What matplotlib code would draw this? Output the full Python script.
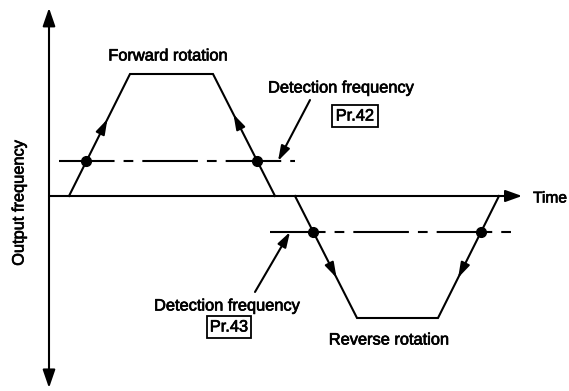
import numpy as np
import matplotlib
matplotlib.use("Agg")
import matplotlib.pyplot as plt
import matplotlib.patheffects as pe

plt.rcParams['font.family'] = ['Liberation Sans', 'DejaVu Sans']
plt.rcParams['lines.scale_dashes'] = False

# ---- data (time in arbitrary units, frequency in Hz) ----
fwd_t = [2.0, 8.1, 16.4, 22.6]
fwd_f = [0, 60, 60, 0]
rev_t = [24.6, 30.8, 38.9, 45.0]
rev_f = [0, -60, -60, 0]
det_fwd = 17.2          # Pr.42 level
det_rev = -17.7         # Pr.43 level
det_fwd_span = [1.0, 24.6]
det_rev_span = [22.1, 47.1]
axis_t_end = 47.3
axis_f_range = [-94.4, 92.5]

labels = {
    'fwd': "Forward rotation",
    'rev': "Reverse rotation",
    'det': "Detection frequency",
    'pr42': "Pr.42",
    'pr43': "Pr.43",
    'time': "Time",
    'ylab': "Output frequency",
}

# ---- figure: axes fill the figure ----
W, H = 569, 391
fig = plt.figure(figsize=(W / 100, H / 100), dpi=100)
ax = fig.add_axes([0, 0, 1, 1])
sx = 10.0            # px per time unit
sy = 122.0 / 60.0    # px per Hz
x0, y0 = 49, 196     # origin in px
ax.set_xlim(-x0 / sx, (W - x0) / sx)
ax.set_ylim(-(H - y0) / sy, y0 / sy)
ax.axis('off')

lw = 1.5
fs = 11.8
bold = [pe.withStroke(linewidth=0.5, foreground='black')]

# axes arrows
ax.annotate('', xy=(0, axis_f_range[1]), xytext=(0, axis_f_range[0]),
            arrowprops=dict(arrowstyle='<|-|>,head_length=1.1,head_width=0.38',
                            lw=lw, color='black', shrinkA=0, shrinkB=0))
ax.annotate('', xy=(axis_t_end, 0), xytext=(0, 0),
            arrowprops=dict(arrowstyle='-|>,head_length=1.0,head_width=0.36',
                            lw=lw, color='black', shrinkA=0, shrinkB=0))

# trapezoids
ax.plot(fwd_t, fwd_f, color='black', lw=lw, solid_joinstyle='miter')
ax.plot(rev_t, rev_f, color='black', lw=lw, solid_joinstyle='miter')

# detection levels (dash-dot)
dash = (0, (40, 6.5, 7, 6.5))
ax.plot(det_fwd_span, [det_fwd] * 2, color='black', lw=lw, linestyle=dash)
ax.plot(det_rev_span, [det_rev] * 2, color='black', lw=lw, linestyle=dash)

# intersection dots
def cross_t(t_pair, f_pair, level):
    pairs = sorted(zip(f_pair, t_pair))
    return float(np.interp(level, [p[0] for p in pairs], [p[1] for p in pairs]))

dots = [
    (cross_t(fwd_t[0:2], fwd_f[0:2], det_fwd), det_fwd),
    (cross_t(fwd_t[2:4], fwd_f[2:4], det_fwd), det_fwd),
    (cross_t(rev_t[0:2], rev_f[0:2], det_rev), det_rev),
    (cross_t(rev_t[2:4], rev_f[2:4], det_rev), det_rev),
]
for t, f in dots:
    ax.plot(t, f, 'o', color='black', ms=7, zorder=5)

# direction arrows on ramps
def ramp_arrow(p_from, p_to, frac):
    a = np.array(p_from, float)
    b = np.array(p_to, float)
    tip = a + (b - a) * frac
    tail = a + (b - a) * (frac - 0.05)
    ax.annotate('', xy=tip, xytext=tail,
                arrowprops=dict(arrowstyle='-|>,head_length=0.9,head_width=0.28',
                                lw=lw, color='black', shrinkA=0, shrinkB=0))

ramp_arrow((fwd_t[0], fwd_f[0]), (fwd_t[1], fwd_f[1]), 0.63)
ramp_arrow((fwd_t[3], fwd_f[3]), (fwd_t[2], fwd_f[2]), 0.67)
ramp_arrow((rev_t[0], rev_f[0]), (rev_t[1], rev_f[1]), 0.67)
ramp_arrow((rev_t[3], rev_f[3]), (rev_t[2], rev_f[2]), 0.67)

# callouts
ax.annotate('', xy=(22.9, det_fwd), xytext=(26.1, 47.2),
            arrowprops=dict(arrowstyle='-|>,head_length=0.9,head_width=0.28',
                            lw=lw, color='black', shrinkA=0, shrinkB=0))
ax.annotate('', xy=(24.1, det_rev), xytext=(20.6, -47.2),
            arrowprops=dict(arrowstyle='-|>,head_length=0.9,head_width=0.28',
                            lw=lw, color='black', shrinkA=0, shrinkB=0))

# texts (positions in px converted to data)
def px(x, y):
    return ((x - x0) / sx, (y0 - y) / sy)

tk = dict(fontsize=fs, ha='center', va='center', path_effects=bold)
ax.text(*px(168, 56), labels['fwd'], **tk)
ax.text(*px(389, 340), labels['rev'], **tk)
ax.text(*px(341, 88), labels['det'], **tk)
ax.text(*px(227, 306), labels['det'], **tk)
box = dict(boxstyle='square,pad=0.2', fc='white', ec='black', lw=1.3)
ax.text(*px(355, 116), labels['pr42'], bbox=box, **tk)
ax.text(*px(229, 327), labels['pr43'], bbox=box, **tk)
ax.text(*px(533, 198), labels['time'], fontsize=11.2, ha='left', va='center',
        path_effects=bold)
ax.text(*px(19, 203), labels['ylab'], rotation=90, **tk)

fig.savefig('out.png', dpi=100)
